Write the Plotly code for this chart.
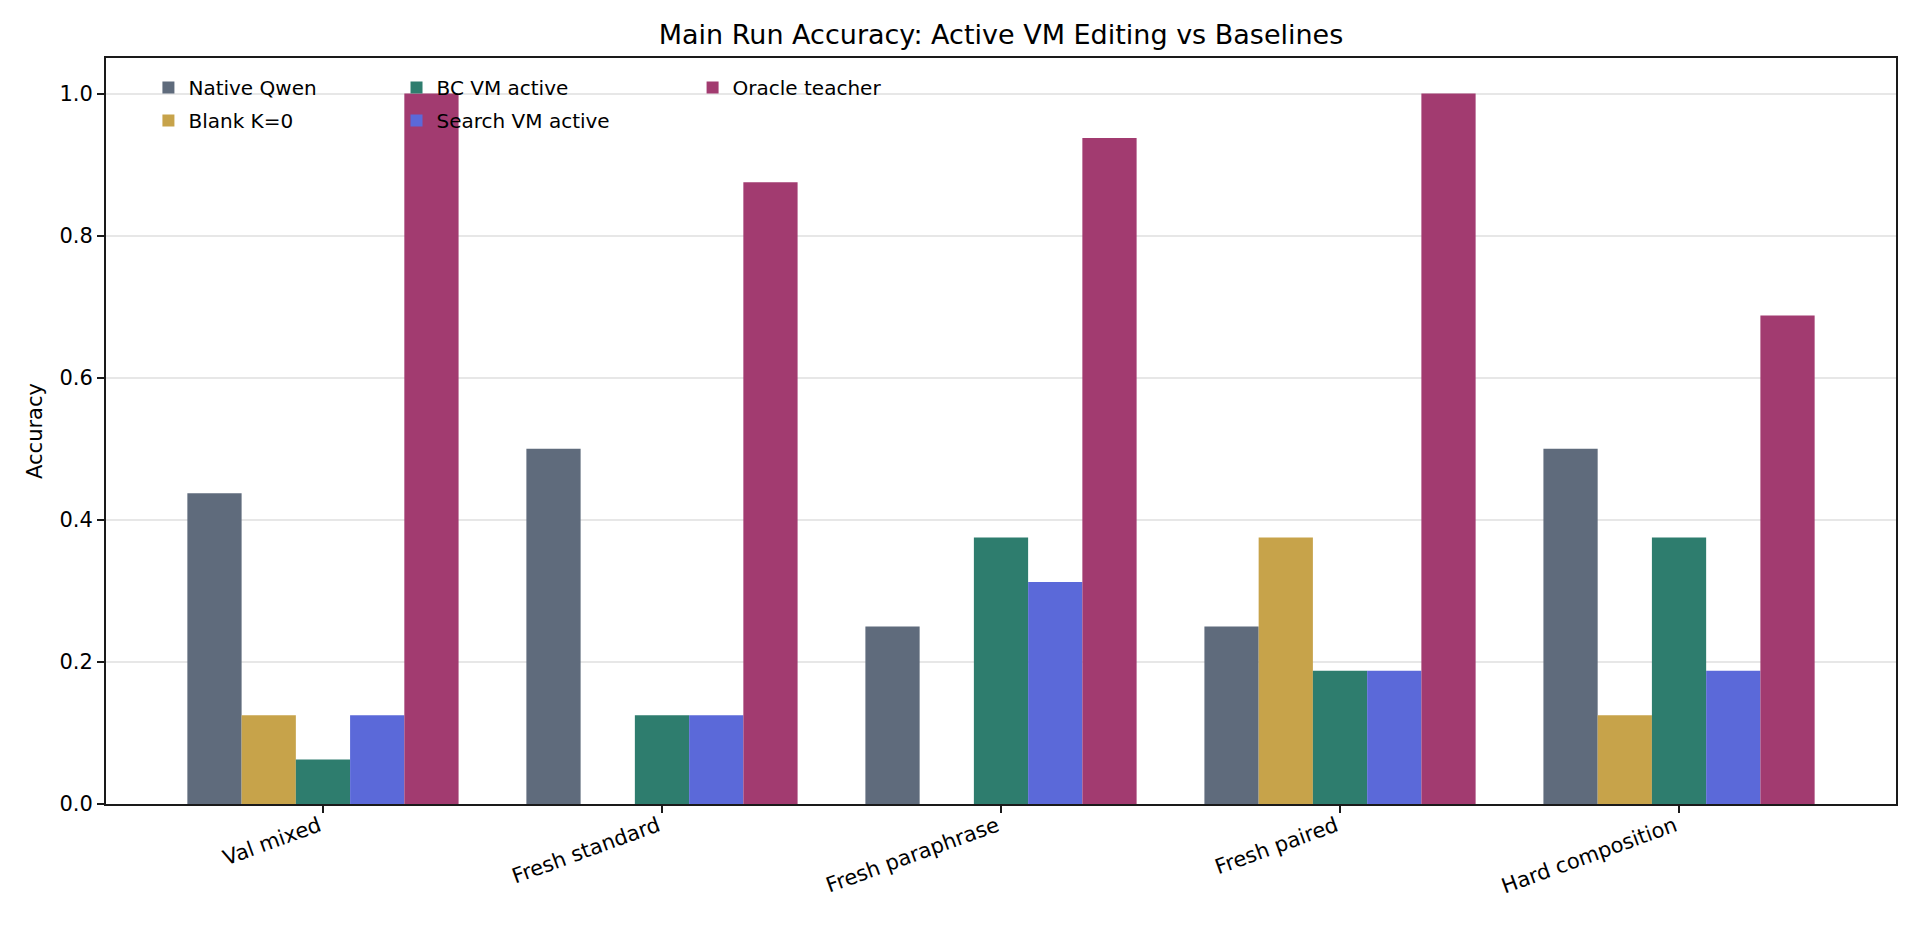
import plotly.graph_objects as go

# dati
categories = ["Val mixed", "Fresh standard", "Fresh paraphrase", "Fresh paired", "Hard composition"]
native_qwen = [0.4375, 0.5, 0.25, 0.25, 0.5]
blank_k0 = [0.125, 0.0, 0.0, 0.375, 0.125]
bc_vm_active = [0.0625, 0.125, 0.375, 0.1875, 0.375]
search_vm_active = [0.125, 0.125, 0.3125, 0.1875, 0.1875]
oracle_teacher = [1.0, 0.875, 0.9375, 1.0, 0.6875]

series = [
    ("Native Qwen", native_qwen, "#5f6b7c", "legend"),
    ("Blank K=0", blank_k0, "#c7a34a", "legend"),
    ("BC VM active", bc_vm_active, "#2e7d6e", "legend2"),
    ("Search VM active", search_vm_active, "#5b69d9", "legend2"),
    ("Oracle teacher", oracle_teacher, "#a23b70", "legend3"),
]

font = "DejaVu Sans"

fig = go.Figure()
for i, (name, vals, color, leg) in enumerate(series):
    fig.add_trace(go.Bar(x=categories, y=vals, name=name, marker_color=color,
                         marker_line_width=0, legend=leg, legendgroup=name,
                         legendrank=i + 1))

# tre colonne di legenda (come ncol=3 di matplotlib)
leg_style = dict(bgcolor="rgba(0,0,0,0)", borderwidth=0, orientation="v",
                 yanchor="top", xanchor="left", y=0.9865,
                 font=dict(family=font, size=20, color="black"),
                 tracegroupgap=4, itemwidth=30)

# la pagina ha 8px di margine sul body: compenso nei margini
fig.update_layout(
    width=1920, height=928,
    paper_bgcolor="white", plot_bgcolor="white",
    font=dict(family=font, size=21, color="black"),
    margin=dict(l=98, r=32, t=50, b=132),
    barmode="group", bargap=0.2, bargroupgap=0,
    title=dict(text="Main Run Accuracy: Active VM Editing vs Baselines",
               xref="paper", x=0.5, xanchor="center",
               y=1 - 27 / 928, yanchor="middle",
               font=dict(family=font, size=27, color="black")),
    legend=dict(x=0.0237, **leg_style),
    legend2=dict(x=0.1623, **leg_style),
    legend3=dict(x=0.3277, **leg_style),
    showlegend=True,
)

fig.update_xaxes(
    type="category", range=[-0.64, 4.64],
    showline=True, linecolor="#1a1a1a", linewidth=1.8, mirror=True,
    ticks="outside", ticklen=7, tickwidth=1.5, tickcolor="#1a1a1a",
    tickangle=-20, ticklabelstandoff=-7, ticklabelshift=-4,
    tickfont=dict(family=font, size=21, color="black"),
    showgrid=False, zeroline=False,
)
fig.update_yaxes(
    range=[0, 1.05], tickvals=[0, 0.2, 0.4, 0.6, 0.8, 1.0],
    ticktext=["0.0", "0.2", "0.4", "0.6", "0.8", "1.0"],
    showline=True, linecolor="#1a1a1a", linewidth=1.8, mirror=True,
    ticks="outside", ticklen=7, tickwidth=1.5, tickcolor="#1a1a1a",
    tickfont=dict(family=font, size=21, color="black"),
    showgrid=True, gridcolor="rgba(176,176,176,0.3)", gridwidth=1.6,
    zeroline=False, layer="above traces",
    title=dict(text="Accuracy", font=dict(family=font, size=21, color="black"), standoff=11),
)

fig.write_html("out.html")
